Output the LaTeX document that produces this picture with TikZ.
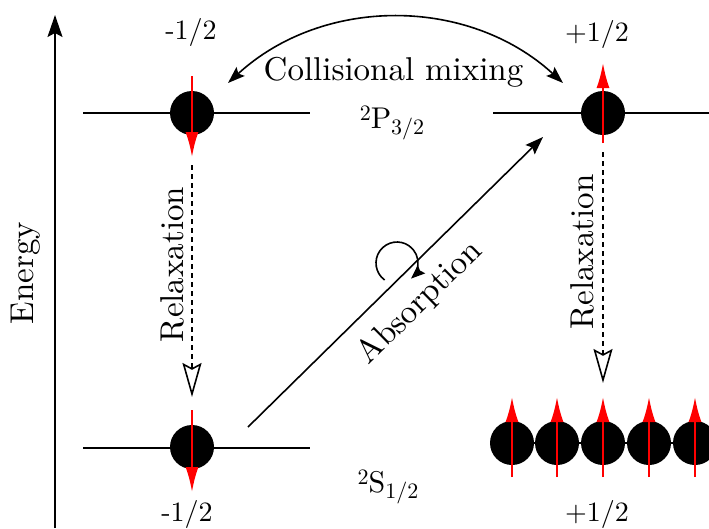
\documentclass[tikz,border=0pt]{standalone}
\usepackage{fontspec}
\setmainfont{lmroman10-regular.otf}
\usetikzlibrary{arrows.meta,calc}
\begin{document}
\begin{tikzpicture}[x=1pt,y=-1pt,
  level/.style={line width=1.6pt},
  atom/.style={circle, fill=black, minimum size=44pt, inner sep=0pt},
  spin/.style={red, line width=2pt, -{Latex[length=25pt,width=13pt]}},
  relax/.style={line width=1.6pt, dash pattern=on 5pt off 4pt, -{Stealth[open,length=34pt,width=19pt,inset=5pt]}},
  blk/.style={line width=1.6pt},
  big/.style={font=\fontsize{33}{38}\selectfont},
  num/.style={font=\fontsize{28}{30}\selectfont},
  term/.style={font=\fontsize{30}{34}\selectfont},
  scr/.style={},
]
\useasboundingbox (0,0) rectangle (709,528);
% energy axis
\coordinate (ax0) at (55,528);
\coordinate (ax1) at (55,15);
\draw[blk, -{Stealth[length=22pt,width=15pt,inset=4pt]}] (ax0) -- (ax1);
\node[big, anchor=base, rotate=90] (en) at (33,273) {Energy};
% levels
\coordinate (pl1) at (83,113);  \coordinate (pl2) at (310,113);
\coordinate (pr1) at (493,113); \coordinate (pr2) at (712,113);
\coordinate (sl1) at (83,448);  \coordinate (sl2) at (310,448);
\coordinate (sr1) at (493,443); \coordinate (sr2) at (712,443);
\draw[level] (pl1) -- (pl2);
\draw[level] (pr1) -- (pr2);
\draw[level] (sl1) -- (sl2);
\draw[level] (sr1) -- (sr2);
% atoms
\node[atom] (a1) at (192,113) {};
\node[atom] (a2) at (603,113) {};
\node[atom] (a3) at (192,447) {};
\foreach \i/\x in {1/512,2/557,3/603,4/649,5/695}{
  \node[atom] (b\i) at (\x,443) {};
}
% spins
\draw[spin] ($(a1)+(0,-37)$) -- ($(a1)+(0,44)$);
\draw[spin] ($(a2)+(0,30)$) -- ($(a2)+(0,-50)$);
\draw[spin] ($(a3)+(0,-37)$) -- ($(a3)+(0,45)$);
\foreach \i in {1,...,5}{
  \draw[spin] ($(b\i)+(0,34)$) -- ($(b\i)+(0,-46)$);
}
% relaxation
\coordinate (r1s) at (192,165); \coordinate (r1e) at (192,397);
\coordinate (r2s) at (603,152); \coordinate (r2e) at (603,383);
\draw[relax] (r1s) -- (r1e);
\draw[relax] (r2s) -- (r2e);
\node[big, anchor=base, rotate=90] (rl) at (183,264.5) {Relaxation};
\node[big, anchor=base, rotate=90] (rr) at (593,252) {Relaxation};
% collisional mixing
\coordinate (c1) at (228,83); \coordinate (c2) at (563,83);
\draw[blk, {Stealth[length=17pt,width=12pt,inset=3pt]}-{Stealth[length=17pt,width=12pt,inset=3pt]}]
  (c1) .. controls (322.8,-3.9) and (468.2,-3.9) .. (c2);
\node[big, anchor=base] (cm) at (393.5,80.5) {Collisional mixing};
% absorption
\coordinate (ab1) at (248,427); \coordinate (ab2) at (543,137);
\draw[blk, -{Stealth[length=18pt,width=13pt,inset=3pt]}] (ab1) -- (ab2);
\node[big, anchor=base, rotate=44.5] (abs) at (426,309) {Absorption};
\coordinate (cc) at (397,263);
\draw[blk, -{Stealth[length=14pt,width=11pt,inset=2pt]}] ($(cc)+(126:21)$) arc[start angle=126, end angle=408, radius=21];
% labels
\node[num, anchor=base] (t1) at (191,39.5) {-1/2};
\node[num, anchor=base] (t2) at (597,41.5) {+1/2};
\node[num, anchor=base] (t3) at (187,521) {-1/2};
\node[num, anchor=base] (t4) at (597,521) {+1/2};
\node[term, anchor=base] (P) at (392,128) {\raisebox{8pt}{\fontsize{22}{22}\selectfont 2}P\raisebox{-6pt}{\fontsize{22}{22}\selectfont 3/2}};
\node[term, anchor=base] (S) at (388,492) {\raisebox{8pt}{\fontsize{22}{22}\selectfont 2}S\raisebox{-6pt}{\fontsize{22}{22}\selectfont 1/2}};
\end{tikzpicture}
\end{document}
